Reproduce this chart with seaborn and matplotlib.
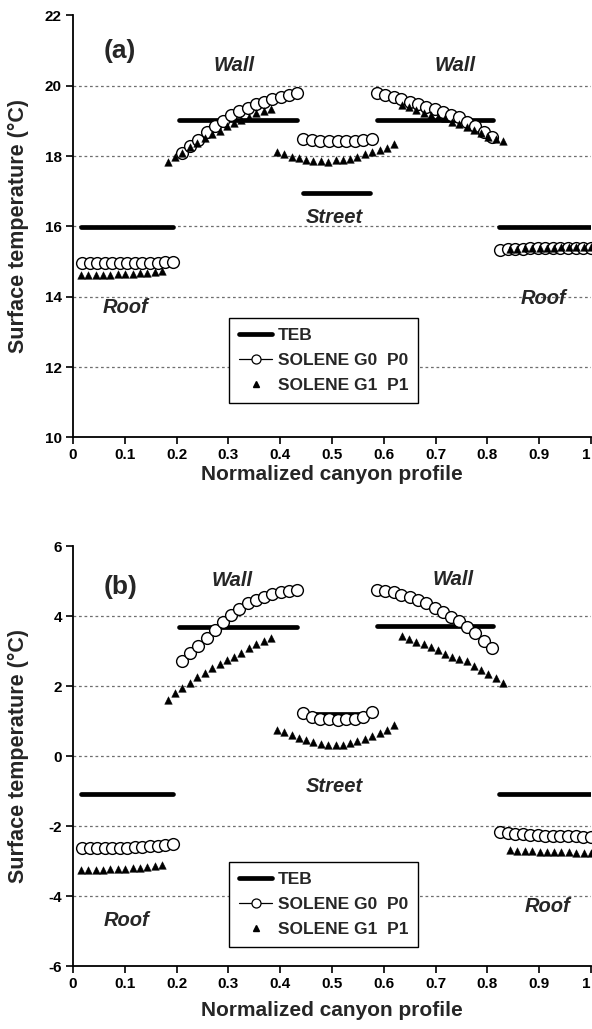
import numpy as np
import pandas as pd
import matplotlib
matplotlib.use("Agg")
import matplotlib.pyplot as plt
import seaborn as sns
from matplotlib.lines import Line2D

# ---------------- data ----------------
# TEB segments (roof, wall, street, wall, roof)
teb_x0 = [0.015, 0.205, 0.444, 0.587, 0.822]
teb_x1 = [0.193, 0.432, 0.573, 0.811, 1.000]
teb_a = [15.97, 19.02, 16.95, 19.02, 15.98]
teb_b = [-1.09, 3.69, 1.20, 3.71, -1.09]

# SOLENE G0 P0 positions
g0_x_roof_l = [0.017, 0.032, 0.046, 0.061, 0.076, 0.090, 0.105, 0.120, 0.134, 0.149, 0.164, 0.178, 0.193]
g0_x_wall_l = [0.210, 0.226, 0.242, 0.258, 0.274, 0.289, 0.305, 0.321, 0.337, 0.353, 0.369, 0.385, 0.401, 0.417, 0.433]
g0_x_street = [0.444, 0.461, 0.477, 0.494, 0.511, 0.527, 0.544, 0.560, 0.577]
g0_x_wall_r = [0.587, 0.603, 0.619, 0.634, 0.650, 0.666, 0.682, 0.698, 0.714, 0.730, 0.746, 0.761, 0.777, 0.793, 0.809]
g0_x_roof_r = [0.824, 0.839, 0.853, 0.868, 0.883, 0.897, 0.912, 0.927, 0.941, 0.956, 0.971, 0.985, 1.000]

# SOLENE G1 P1 positions
g1_x_roof_l = [0.015, 0.029, 0.044, 0.058, 0.072, 0.086, 0.101, 0.115, 0.129, 0.143, 0.158, 0.172]
g1_x_wall_l = [0.183, 0.197, 0.211, 0.226, 0.240, 0.254, 0.268, 0.283, 0.297, 0.311, 0.325, 0.339, 0.354, 0.368, 0.382]
g1_x_street = [0.394, 0.408, 0.422, 0.436, 0.450, 0.464, 0.479, 0.493, 0.507, 0.521, 0.535, 0.549, 0.563, 0.577, 0.592, 0.606, 0.620]
g1_x_wall_r = [0.635, 0.649, 0.663, 0.677, 0.691, 0.705, 0.718, 0.732, 0.746, 0.760, 0.774, 0.788, 0.802, 0.816, 0.830]
g1_x_roof_r = [0.844, 0.858, 0.872, 0.886, 0.901, 0.915, 0.929, 0.943, 0.957, 0.972, 0.986, 1.000]

# panel (a) values
a_g0_roof_l = [14.95, 14.95, 14.95, 14.95, 14.95, 14.95, 14.95, 14.95, 14.95, 14.95, 14.96, 14.98, 14.98]
a_g0_wall_l = [18.09, 18.29, 18.46, 18.69, 18.86, 19.00, 19.17, 19.28, 19.37, 19.48, 19.54, 19.62, 19.68, 19.74, 19.79]
a_g0_street = [18.48, 18.45, 18.43, 18.42, 18.42, 18.42, 18.43, 18.45, 18.49]
a_g0_wall_r = [19.79, 19.74, 19.68, 19.62, 19.54, 19.48, 19.40, 19.34, 19.25, 19.17, 19.11, 18.97, 18.86, 18.69, 18.54]
a_g0_roof_r = [15.33, 15.35, 15.36, 15.37, 15.38, 15.38, 15.38, 15.38, 15.38, 15.38, 15.38, 15.38, 15.38]

a_g1_roof_l = [14.61, 14.62, 14.62, 14.63, 14.63, 14.64, 14.64, 14.65, 14.66, 14.67, 14.70, 14.73]
a_g1_wall_l = [17.83, 17.97, 18.09, 18.26, 18.37, 18.51, 18.63, 18.71, 18.85, 18.94, 19.02, 19.11, 19.22, 19.28, 19.34]
a_g1_street = [18.11, 18.07, 17.98, 17.94, 17.90, 17.87, 17.87, 17.84, 17.89, 17.89, 17.92, 17.98, 18.06, 18.11, 18.17, 18.24, 18.33]
a_g1_wall_r = [19.45, 19.39, 19.31, 19.22, 19.17, 19.11, 19.08, 18.97, 18.91, 18.83, 18.74, 18.66, 18.54, 18.49, 18.43]
a_g1_roof_r = [15.36, 15.37, 15.38, 15.38, 15.39, 15.39, 15.39, 15.40, 15.40, 15.40, 15.40, 15.40]

# panel (b) values
b_g0_roof_l = [-2.63, -2.63, -2.63, -2.63, -2.63, -2.62, -2.62, -2.61, -2.60, -2.58, -2.56, -2.53, -2.50]
b_g0_wall_l = [2.71, 2.94, 3.15, 3.37, 3.60, 3.83, 4.03, 4.20, 4.37, 4.46, 4.54, 4.63, 4.68, 4.72, 4.75]
b_g0_street = [1.22, 1.12, 1.07, 1.05, 1.04, 1.05, 1.07, 1.12, 1.25]
b_g0_wall_r = [4.74, 4.71, 4.68, 4.60, 4.54, 4.46, 4.37, 4.23, 4.13, 3.99, 3.86, 3.69, 3.51, 3.29, 3.08]
b_g0_roof_r = [-2.17, -2.20, -2.22, -2.23, -2.25, -2.26, -2.27, -2.28, -2.28, -2.29, -2.29, -2.30, -2.30]

b_g1_roof_l = [-3.26, -3.26, -3.25, -3.25, -3.24, -3.23, -3.22, -3.21, -3.19, -3.17, -3.14, -3.10]
b_g1_wall_l = [1.60, 1.80, 1.94, 2.08, 2.25, 2.37, 2.51, 2.63, 2.74, 2.83, 2.94, 3.08, 3.20, 3.29, 3.37]
b_g1_street = [0.75, 0.68, 0.60, 0.52, 0.45, 0.40, 0.35, 0.32, 0.31, 0.33, 0.37, 0.42, 0.49, 0.57, 0.66, 0.76, 0.90]
b_g1_wall_r = [3.43, 3.34, 3.26, 3.20, 3.11, 3.03, 2.93, 2.83, 2.77, 2.71, 2.57, 2.46, 2.34, 2.23, 2.09]
b_g1_roof_r = [-2.68, -2.70, -2.71, -2.72, -2.73, -2.74, -2.74, -2.75, -2.75, -2.76, -2.76, -2.77]

x_ticks = [0, 0.1, 0.2, 0.3, 0.4, 0.5, 0.6, 0.7, 0.8, 0.9, 1.0]
x_ticklabels = ["0", "0.1", "0.2", "0.3", "0.4", "0.5", "0.6", "0.7", "0.8", "0.9", "1"]
a_yticks = [10, 12, 14, 16, 18, 20, 22]
b_yticks = [-6, -4, -2, 0, 2, 4, 6]

legend_labels = ["TEB", "SOLENE G0  P0", "SOLENE G1  P1"]

# ---------------- style ----------------
sns.set_style("ticks")
plt.rcParams["font.family"] = ["Liberation Sans", "DejaVu Sans"]
plt.rcParams["font.weight"] = "bold"

fig = plt.figure(figsize=(5.92, 10.29), dpi=100)
ax_a = fig.add_axes([0.1233, 0.575, 0.875, 0.410])
ax_b = fig.add_axes([0.1233, 0.0612, 0.875, 0.408])


def teb_frame(vals):
    rows = []
    for i, (x0, x1, v) in enumerate(zip(teb_x0, teb_x1, vals)):
        rows.append({"x": x0, "y": v, "seg": i})
        rows.append({"x": x1, "y": v, "seg": i})
    return pd.DataFrame(rows)


def pts(xs_list, ys_list):
    xs = np.concatenate([np.asarray(x) for x in xs_list])
    ys = np.concatenate([np.asarray(y) for y in ys_list])
    return pd.DataFrame({"x": xs, "y": ys})


def draw(ax, teb_vals, g0_vals, g1_vals, yticks, grid_vals, xlab_y):
    for g in grid_vals:
        ax.axhline(g, color="#6f6f6f", lw=0.9, ls=(0, (2.2, 2.2)), zorder=0)
    sns.lineplot(data=teb_frame(teb_vals), x="x", y="y", units="seg", estimator=None,
                 sort=False, color="black", lw=3.4, ax=ax, legend=False, zorder=2)
    g0 = pts([g0_x_roof_l, g0_x_wall_l, g0_x_street, g0_x_wall_r, g0_x_roof_r], g0_vals)
    sns.scatterplot(data=g0, x="x", y="y", marker="o", s=72, color="white",
                    edgecolor="black", linewidth=1.0, ax=ax, legend=False, zorder=3)
    g1 = pts([g1_x_roof_l, g1_x_wall_l, g1_x_street, g1_x_wall_r, g1_x_roof_r], g1_vals)
    sns.scatterplot(data=g1, x="x", y="y", marker="^", s=30, color="black",
                    edgecolor="black", linewidth=0.3, ax=ax, legend=False, zorder=4)

    ax.set_xlim(0, 1.0)
    ax.set_ylim(yticks[0], yticks[-1])
    ax.set_xticks(x_ticks)
    ax.set_xticklabels(x_ticklabels)
    ax.set_yticks(yticks)
    ax.set_yticklabels([str(t) for t in yticks])
    ax.tick_params(axis="both", direction="out", length=5, width=1.2, labelsize=11,
                   colors="black", pad=3)
    for lab in ax.get_xticklabels() + ax.get_yticklabels():
        lab.set_fontweight("bold")
    ax.get_xticklabels()[-1].set_horizontalalignment("right")
    for s in ["top", "right"]:
        ax.spines[s].set_visible(False)
    for s in ["left", "bottom"]:
        ax.spines[s].set_linewidth(1.3)
        ax.spines[s].set_color("black")
    ax.set_xlabel("Normalized canyon profile", fontsize=15, fontweight="bold", va="center")
    ax.xaxis.set_label_coords(0.5, xlab_y)
    ax.set_ylabel("Surface temperature (\u00b0C)", fontsize=15.5, fontweight="bold", va="center")
    ax.yaxis.set_label_coords(-0.106, 0.5)
    ax.set_facecolor("white")


draw(ax_a, teb_a,
     [a_g0_roof_l, a_g0_wall_l, a_g0_street, a_g0_wall_r, a_g0_roof_r],
     [a_g1_roof_l, a_g1_wall_l, a_g1_street, a_g1_wall_r, a_g1_roof_r],
     a_yticks, [12, 14, 16, 18, 20], -0.088)
draw(ax_b, teb_b,
     [b_g0_roof_l, b_g0_wall_l, b_g0_street, b_g0_wall_r, b_g0_roof_r],
     [b_g1_roof_l, b_g1_wall_l, b_g1_street, b_g1_wall_r, b_g1_roof_r],
     b_yticks, [-4, -2, 0, 2, 4], -0.105)

lab_kw = dict(fontsize=14.5, fontweight="bold", fontstyle="italic", ha="center", va="center", zorder=5)

ax_a.text(0.091, 21.0, "(a)", fontsize=19, fontweight="bold", ha="center", va="center")
ax_a.text(0.311, 20.59, "Wall", **lab_kw)
ax_a.text(0.737, 20.59, "Wall", **lab_kw)
ax_a.text(0.504, 16.25, "Street", **lab_kw)
ax_a.text(0.102, 13.68, "Roof", **lab_kw)
ax_a.text(0.909, 13.95, "Roof", **lab_kw)

ax_b.text(0.091, 4.83, "(b)", fontsize=19, fontweight="bold", ha="center", va="center")
ax_b.text(0.307, 5.03, "Wall", **lab_kw)
ax_b.text(0.734, 5.06, "Wall", **lab_kw)
ax_b.text(0.504, -0.86, "Street", **lab_kw)
ax_b.text(0.104, -4.71, "Roof", **lab_kw)
ax_b.text(0.917, -4.31, "Roof", **lab_kw)


def make_legend(ax, anchor):
    handles = [
        Line2D([], [], color="black", lw=3.4),
        Line2D([], [], color="black", lw=0.9, marker="o", markersize=6.5,
               markerfacecolor="white", markeredgecolor="black", markeredgewidth=0.9),
        Line2D([], [], color="black", lw=0, marker="^", markersize=4.5),
    ]
    leg = ax.legend(handles, legend_labels, loc="upper left", bbox_to_anchor=anchor,
                    frameon=True, fancybox=False, edgecolor="black", framealpha=1,
                    prop={"weight": "bold", "size": 12.5}, handlelength=1.9,
                    handletextpad=0.3, borderpad=0.6, labelspacing=0.55, borderaxespad=0)
    leg.get_frame().set_linewidth(1.0)
    leg.set_zorder(6)


make_legend(ax_a, (0.301, 0.283))
make_legend(ax_b, (0.301, 0.248))

fig.savefig("out.png", dpi=100, facecolor="white")
